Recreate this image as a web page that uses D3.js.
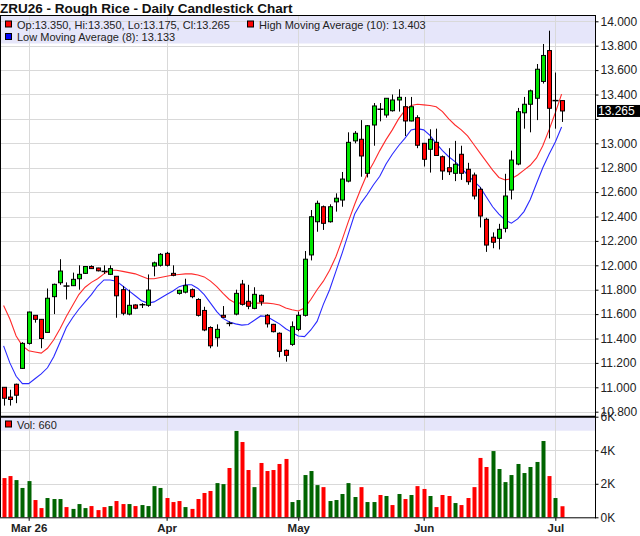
<!DOCTYPE html>
<html>
<head>
<meta charset="utf-8">
<script src="https://cdn.jsdelivr.net/npm/d3@7"></script>
<style>
  body { margin: 0; background: #fff; }
  text { font-family: "Liberation Sans", Arial, sans-serif; }
</style>
</head>
<body>
<svg id="chart" width="640" height="536"></svg>
<script>
// trading days shown on the chart
var dates = [
    "2026-02-24","2026-02-25","2026-02-26","2026-02-27",
    "2026-03-02","2026-03-03","2026-03-04","2026-03-05","2026-03-06","2026-03-09","2026-03-10","2026-03-11",
    "2026-03-12","2026-03-13","2026-03-16","2026-03-17","2026-03-18","2026-03-19","2026-03-20","2026-03-23",
    "2026-03-24","2026-03-25","2026-03-26","2026-03-27","2026-03-30","2026-03-31",
    "2026-04-01","2026-04-02","2026-04-06","2026-04-07","2026-04-08","2026-04-09","2026-04-10","2026-04-13",
    "2026-04-14","2026-04-15","2026-04-16","2026-04-17","2026-04-20","2026-04-21","2026-04-22","2026-04-23",
    "2026-04-24","2026-04-27","2026-04-28","2026-04-29","2026-04-30",
    "2026-05-01","2026-05-04","2026-05-05","2026-05-06","2026-05-07","2026-05-08","2026-05-11","2026-05-12",
    "2026-05-13","2026-05-14","2026-05-15","2026-05-18","2026-05-19","2026-05-20","2026-05-21","2026-05-22",
    "2026-05-26","2026-05-27","2026-05-28","2026-05-29",
    "2026-06-01","2026-06-02","2026-06-03","2026-06-04","2026-06-05","2026-06-08","2026-06-09","2026-06-10",
    "2026-06-11","2026-06-12","2026-06-15","2026-06-16","2026-06-17","2026-06-18","2026-06-22","2026-06-23",
    "2026-06-24","2026-06-25","2026-06-26","2026-06-29","2026-06-30",
    "2026-07-01","2026-07-02"
]

var opens = [11.00,10.92,11.025,11.155,11.36,11.59,11.557,11.45,11.743,11.857,
    11.83,11.833,11.89,11.934,11.99,11.978,11.95,11.926,11.91,11.80,
    11.60,11.675,11.677,11.672,11.994,12.00,12.098,11.934,11.77,11.78,
    11.80,11.72,11.63,11.49,11.406,11.59,11.524,11.60,11.846,11.705,
    11.647,11.754,11.59,11.516,11.443,11.303,11.352,11.475,11.59,12.085,
    12.357,12.48,12.357,12.52,12.535,12.69,13.02,13.033,12.754,13.15,
    13.279,13.232,13.267,13.355,13.30,13.183,13.21,13.00,12.951,13.008,
    12.89,12.80,12.754,12.91,12.787,12.74,12.623,12.377,12.23,12.221,
    12.303,12.617,12.83,13.25,13.32,13.369,13.507,13.76,13.35,13.35]

var highs = [11.00,10.98,11.03,11.37,11.62,11.59,11.56,11.81,11.85,12.05,
    11.86,11.94,12.00,11.99,12.00,11.98,12.00,12.00,11.91,11.83,
    11.80,11.68,11.69,11.925,12.03,12.10,12.11,12.00,11.80,11.89,
    11.81,11.73,11.66,11.50,11.516,11.666,11.54,11.80,11.88,11.84,
    11.82,11.76,11.60,11.52,11.45,11.31,11.54,11.62,12.117,12.453,
    12.53,12.49,12.50,12.59,12.765,13.09,13.10,13.19,13.15,13.33,
    13.33,13.37,13.40,13.443,13.38,13.38,13.23,13.00,13.115,13.12,
    12.90,12.96,13.02,12.98,12.84,12.76,12.64,12.39,12.27,12.34,
    12.75,12.94,13.29,13.38,13.44,13.65,13.814,13.923,13.58,13.35]

var lows = [10.85,10.85,10.87,11.15,11.35,11.53,11.32,11.45,11.60,11.84,
    11.72,11.83,11.80,11.93,11.97,11.95,11.93,11.92,11.57,11.59,
    11.59,11.64,11.65,11.66,11.91,11.99,11.99,11.91,11.76,11.77,
    11.73,11.58,11.46,11.32,11.333,11.57,11.50,11.59,11.67,11.64,
    11.64,11.67,11.49,11.45,11.246,11.21,11.34,11.46,11.58,12.04,
    12.275,12.29,12.35,12.44,12.48,12.68,13.00,12.726,12.72,12.98,
    13.18,13.21,13.26,13.26,13.06,13.18,12.96,12.81,12.76,12.90,
    12.70,12.74,12.69,12.70,12.66,12.54,12.31,12.11,12.14,12.13,
    12.27,12.54,12.82,13.12,13.09,13.19,13.49,13.04,13.12,13.175]

var closes = [10.91,10.90,10.935,11.36,11.617,11.557,11.40,11.73,11.844,11.953,
    11.83,11.885,11.926,11.99,11.973,11.955,11.95,11.973,11.75,11.607,
    11.672,11.648,11.677,11.797,12.02,12.09,12.00,11.918,11.795,11.833,
    11.743,11.59,11.47,11.34,11.475,11.574,11.524,11.77,11.68,11.664,
    11.762,11.70,11.52,11.456,11.295,11.262,11.497,11.59,12.05,12.398,
    12.508,12.344,12.48,12.55,12.707,13.008,13.082,12.896,13.144,13.306,
    13.279,13.369,13.355,13.377,13.183,13.30,12.984,12.869,13.033,12.90,
    12.773,12.767,12.828,12.754,12.685,12.568,12.404,12.166,12.189,12.295,
    12.568,12.863,13.259,13.32,13.43,13.607,13.72,13.287,13.35,13.265]

var volumes = [2340,2460,2220,1750,2160,1030,550,1150,1090,1090,
    610,500,790,550,670,430,610,670,970,790,
    790,670,730,670,1860,1750,1150,910,970,610,
    500,1090,1450,1570,2040,1980,2940,5150,4490,2820,
    1800,3240,2760,2820,3180,3480,910,1030,2520,2760,
    1920,1800,970,1030,1390,2040,1210,1800,910,910,
    1330,1270,730,1390,1090,1330,1860,1690,1270,610,
    1330,1270,850,730,1150,1800,3540,3000,3950,2880,
    2100,2520,3180,2640,3000,3300,4550,2460,1150,660]

// high moving average (10)
var highMA = [11.67,11.56,11.42,11.34,11.30,11.29,11.28,11.32,11.39,11.48,
    11.58,11.67,11.76,11.82,11.86,11.89,11.93,11.96,11.96,11.95,
    11.94,11.93,11.91,11.89,11.89,11.90,11.91,11.92,11.925,11.93,
    11.93,11.92,11.905,11.87,11.825,11.77,11.72,11.69,11.69,11.69,
    11.69,11.69,11.69,11.685,11.675,11.65,11.635,11.625,11.65,11.72,
    11.80,11.87,11.96,12.07,12.21,12.36,12.50,12.63,12.75,12.84,
    12.94,13.03,13.11,13.20,13.27,13.31,13.32,13.315,13.31,13.30,
    13.26,13.20,13.15,13.11,13.06,12.99,12.92,12.85,12.78,12.72,
    12.70,12.71,12.74,12.78,12.82,12.88,12.98,13.11,13.25,13.403]

// low moving average (8)
var lowMA = [11.34,11.20,11.09,11.03,11.03,11.07,11.11,11.16,11.25,11.37,
    11.49,11.57,11.64,11.70,11.76,11.83,11.88,11.88,11.87,11.83,
    11.79,11.75,11.71,11.69,11.70,11.73,11.76,11.79,11.825,11.84,
    11.84,11.81,11.76,11.69,11.62,11.565,11.535,11.52,11.51,11.515,
    11.55,11.585,11.58,11.55,11.52,11.48,11.45,11.42,11.415,11.47,
    11.54,11.68,11.80,11.95,12.10,12.26,12.42,12.51,12.58,12.66,
    12.73,12.83,12.91,12.98,13.04,13.11,13.12,13.11,13.065,13.00,
    12.94,12.89,12.85,12.80,12.74,12.69,12.64,12.56,12.48,12.42,
    12.37,12.345,12.38,12.44,12.54,12.67,12.80,12.91,13.01,13.133]

var priceTicks = [10.8,11.0,11.2,11.4,11.6,11.8,12.0,12.2,12.4,12.6,12.8,13.0,13.2,13.4,13.6,13.8,14.0]
var volTicks = [0, 2000, 4000, 6000]
var volTickLabels = ["0K", "2K", "4K", "6K"]
var monthLabels = ["Mar 26", "Apr", "May", "Jun", "Jul"]
var priorClose = 11.02

var upColor = "#00e600",
    downColor = "#ff0000",
    volUpColor = "#006400",
    volDownColor = "#ff0000",
    bandColor = "#e6e6fa",
    gridColor = "#d9d9d9",
    font = "'Liberation Sans', Arial, sans-serif"

// panel geometry
var plotRight = 595,
    priceTop = 15,
    priceBottom = 416.7,
    volBottom = 517.3

var svg = d3.select("#chart")

// scales
var x = d3.scalePoint().domain(dates).range([3.6, 561.6])
var y = d3.scaleLinear().domain([10.8, 14.0]).range([411.7, 21.3])
var yVol = d3.scaleLinear().domain([0, 6000]).range([volBottom, priceBottom])

var idx = d3.range(dates.length)
var last = closes.length - 1
var monthStarts = dates.filter(function(d, i) { return i > 0 && d.slice(5, 7) != dates[i - 1].slice(5, 7) })

// title
svg.append("text")
    .attr("x", 0)
    .attr("y", 12.5)
    .style("font-size", "13.5px")
    .style("font-weight", "bold")
    .attr("fill", "#111")
    .text("ZRU26 - Rough Rice - Daily Candlestick Chart")

// legend bands
svg.append("rect").attr("x", 0).attr("y", priceTop).attr("width", plotRight).attr("height", 28.5).attr("fill", bandColor)
svg.append("rect").attr("x", 0).attr("y", priceBottom).attr("width", plotRight).attr("height", 14).attr("fill", bandColor)

// grid
var grid = svg.append("g").attr("stroke", gridColor).attr("stroke-width", 1)

grid.selectAll(".hp").data(priceTicks).enter().append("line")
    .attr("x1", 0).attr("x2", plotRight)
    .attr("y1", function(d) { return Math.round(y(d)) + 0.5 })
    .attr("y2", function(d) { return Math.round(y(d)) + 0.5 })

grid.selectAll(".hv").data([2000, 4000]).enter().append("line")
    .attr("x1", 0).attr("x2", plotRight)
    .attr("y1", function(d) { return Math.round(yVol(d)) + 0.5 })
    .attr("y2", function(d) { return Math.round(yVol(d)) + 0.5 })

grid.selectAll(".vm").data(monthStarts).enter().append("line")
    .attr("x1", function(d) { return Math.round(x(d)) + 0.5 })
    .attr("x2", function(d) { return Math.round(x(d)) + 0.5 })
    .attr("y1", priceTop).attr("y2", volBottom)

// moving averages
var maLine = function(arr) {
    return d3.line()
        .x(function(i) { return x(dates[i]) })
        .y(function(i) { return y(arr[i]) })
}

svg.append("path")
    .datum(idx)
    .attr("fill", "none")
    .attr("stroke", "#ff2a2a")
    .attr("stroke-width", 1.1)
    .attr("d", maLine(highMA))

svg.append("path")
    .datum(idx)
    .attr("fill", "none")
    .attr("stroke", "#2a2aff")
    .attr("stroke-width", 1.1)
    .attr("d", maLine(lowMA))

// candles
var candles = svg.append("g").selectAll("g").data(idx).enter().append("g")

candles.append("line")
    .attr("x1", function(i) { return Math.round(x(dates[i])) + 0.5 })
    .attr("x2", function(i) { return Math.round(x(dates[i])) + 0.5 })
    .attr("y1", function(i) { return y(highs[i]) })
    .attr("y2", function(i) { return y(lows[i]) })
    .attr("stroke", "#000")
    .attr("stroke-width", 1)

candles.filter(function(i) { return opens[i] != closes[i] })
    .append("rect")
    .attr("x", function(i) { return Math.round(x(dates[i])) - 1.5 })
    .attr("y", function(i) { return y(Math.max(opens[i], closes[i])) })
    .attr("width", 4)
    .attr("height", function(i) { return Math.max(1, Math.abs(y(opens[i]) - y(closes[i]))) })
    .attr("fill", function(i) { return closes[i] > opens[i] ? upColor : downColor })
    .attr("stroke", "#000")
    .attr("stroke-width", 1)

// doji marks
candles.filter(function(i) { return opens[i] == closes[i] })
    .append("line")
    .attr("x1", function(i) { return Math.round(x(dates[i])) - 2.5 })
    .attr("x2", function(i) { return Math.round(x(dates[i])) + 3.5 })
    .attr("y1", function(i) { return y(opens[i]) })
    .attr("y2", function(i) { return y(opens[i]) })
    .attr("stroke", "#000")
    .attr("stroke-width", 1.5)

// volume bars, coloured by close against previous close
svg.append("g").selectAll("rect").data(idx).enter().append("rect")
    .attr("x", function(i) { return Math.round(x(dates[i])) - 1.5 })
    .attr("y", function(i) { return yVol(volumes[i]) })
    .attr("width", 4)
    .attr("height", function(i) { return volBottom - yVol(volumes[i]) })
    .attr("fill", function(i) {
        var prev = i == 0 ? priorClose : closes[i - 1]
        return closes[i] >= prev ? volUpColor : volDownColor
    })

// frame
var frame = svg.append("g").attr("stroke", "#000")
frame.append("line").attr("x1", 0.5).attr("x2", 0.5).attr("y1", priceTop).attr("y2", volBottom)
frame.append("line").attr("x1", 0).attr("x2", plotRight).attr("y1", priceTop + 0.5).attr("y2", priceTop + 0.5)
frame.append("line").attr("x1", plotRight + 0.5).attr("x2", plotRight + 0.5).attr("y1", priceTop).attr("y2", volBottom + 1)
frame.append("line").attr("x1", 0).attr("x2", plotRight).attr("y1", priceBottom).attr("y2", priceBottom).attr("stroke-width", 2)
frame.append("line").attr("x1", 0).attr("x2", plotRight + 1).attr("y1", volBottom + 0.5).attr("y2", volBottom + 0.5)

// price axis (labels under the last price marker are hidden, as in the original)
var priceAxis = svg.append("g")
    .attr("transform", "translate(" + (plotRight + 0.5) + ",0)")
    .call(d3.axisRight(y).tickValues(priceTicks).tickFormat(d3.format(".3f")).tickSize(3).tickPadding(2))
priceAxis.select(".domain").remove()
priceAxis.selectAll("text").style("font-size", "12px").style("font-family", font).attr("fill", "#222")
priceAxis.selectAll(".tick").filter(function(d) { return Math.abs(y(d) - y(closes[last])) < 12 })
    .select("text").remove()

// volume axis
var volAxis = svg.append("g")
    .attr("transform", "translate(" + (plotRight + 0.5) + ",0)")
    .call(d3.axisRight(yVol).tickValues(volTicks).tickFormat(function(d, i) { return volTickLabels[i] }).tickSize(3).tickPadding(2))
volAxis.select(".domain").remove()
volAxis.selectAll("text").style("font-size", "12px").style("font-family", font).attr("fill", "#222")

// time axis
var timeAxis = svg.append("g")
    .attr("transform", "translate(0," + (volBottom + 0.5) + ")")
    .call(d3.axisBottom(x).tickValues(monthStarts).tickFormat(function(d, i) { return monthLabels[i] }).tickSize(3).tickPadding(3))
timeAxis.select(".domain").remove()
timeAxis.selectAll("text").style("font-size", "11.5px").style("font-family", font).style("font-weight", "bold").attr("fill", "#222")

// last price marker
svg.append("rect")
    .attr("x", plotRight + 2)
    .attr("y", y(closes[last]) - 6)
    .attr("width", 640 - plotRight - 2)
    .attr("height", 12)
    .attr("fill", "#000")
svg.append("text")
    .attr("x", plotRight + 3)
    .attr("y", y(closes[last]))
    .attr("dy", "0.35em")
    .style("font-size", "12px")
    .attr("fill", "#fff")
    .text(d3.format(".3f")(closes[last]))

// legend
var fmt = d3.format(".3f")
var legend = svg.append("g").style("font-size", "11px").attr("fill", "#222")

function legendItem(px, py, color, label) {
    legend.append("rect")
        .attr("x", px + 0.5).attr("y", py - 7.5)
        .attr("width", 6).attr("height", 6)
        .attr("fill", color).attr("stroke", "#000")
    legend.append("text").attr("x", px + 12).attr("y", py).text(label)
}

legendItem(5, 28.5, closes[last] < opens[last] ? downColor : upColor,
    "Op:" + fmt(opens[last]) + ", Hi:" + fmt(highs[last]) + ", Lo:" + fmt(lows[last]) + ", Cl:" + fmt(closes[last]))
legendItem(247, 28.5, "#ff0000", "High Moving Average (10): " + fmt(highMA[last]))
legendItem(5, 41, "#0000ff", "Low Moving Average (8): " + fmt(lowMA[last]))
legendItem(5, 428.5, "#ff0000", "Vol: " + volumes[last])
</script>
</body>
</html>
